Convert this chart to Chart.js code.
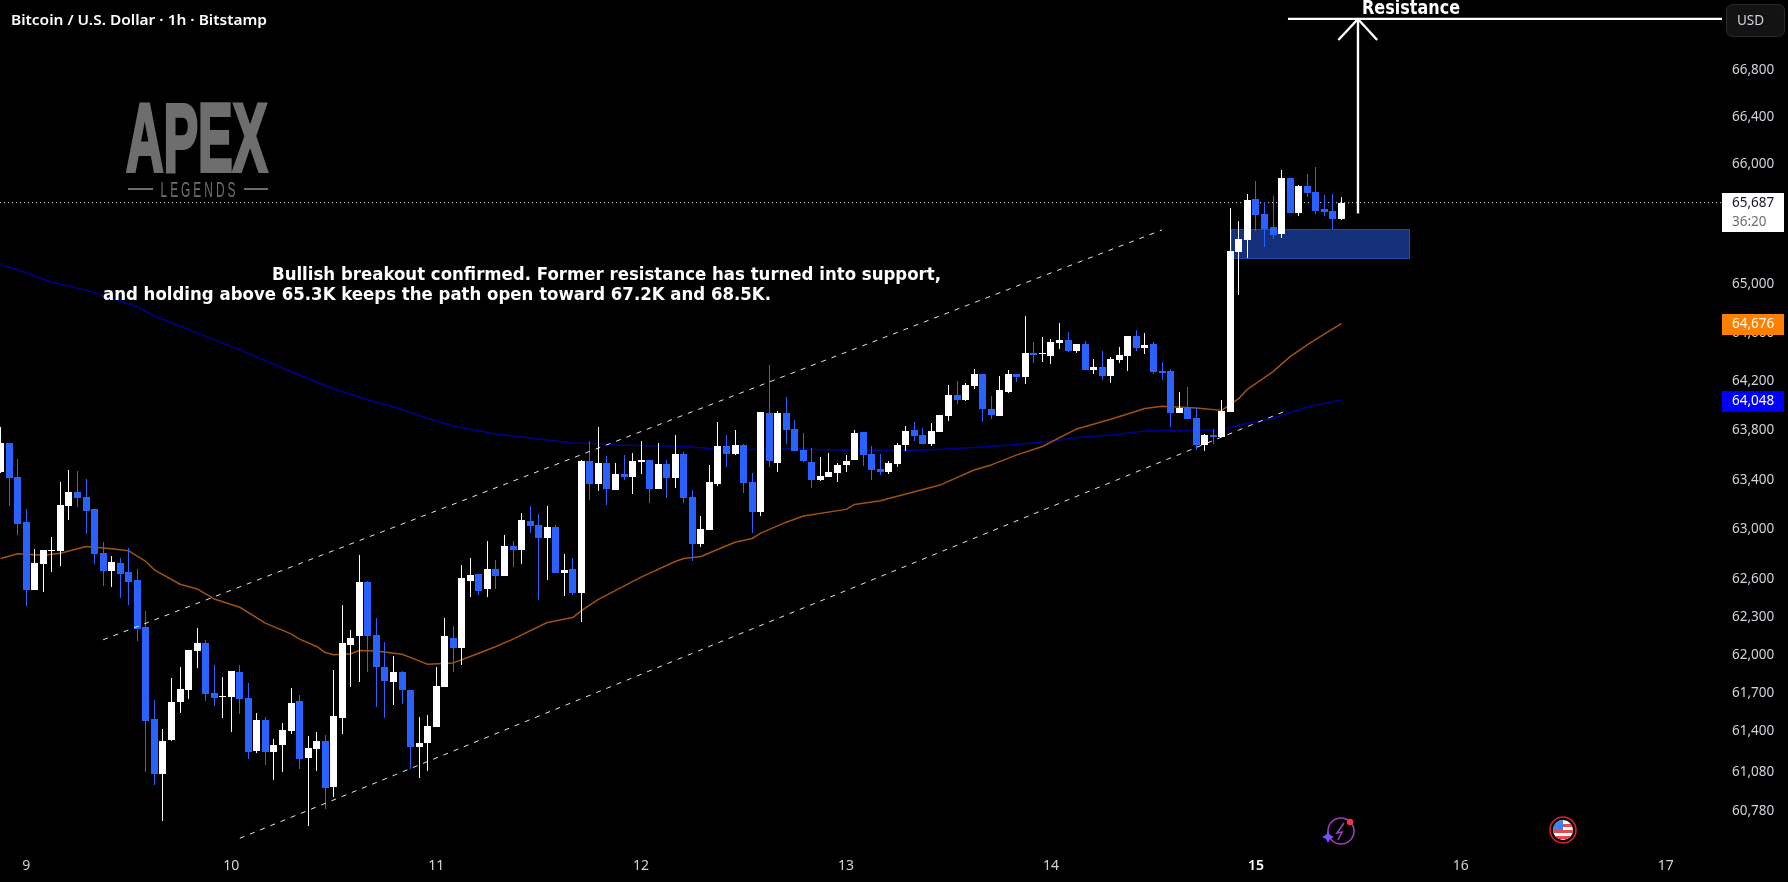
<!DOCTYPE html>
<html>
<head>
<meta charset="utf-8">
<title>BTCUSD 1h</title>
<script src="https://cdn.jsdelivr.net/npm/chart.js@4"></script>
<style>
html, body { margin: 0; padding: 0; background: #000; }
canvas { display: block; }
</style>
</head>
<body>
<canvas id="grafico" width="1788" height="882"></canvas>
<script>
// velas de 1h, la primera es tres horas antes del dia 9 a las 00:00
const first_hour = -3;

const opens = [63464,63699,63424,63061,62517,62725,62829,62829,63189,63302,63261,63165,62813,62669,62733,62661,62597,62224,61498,61068,
61334,61630,61725,62033,62097,61701,61670,61670,61867,61662,61248,61490,61240,61295,61404,61638,61193,61264,61326,60966,
61506,62081,62153,62581,62161,61907,61788,61867,61725,61279,61310,61435,61749,62137,62057,62589,62645,62525,62685,62629,
62869,62837,63069,63037,62933,63021,62653,62685,62493,63553,63367,63537,63318,63448,63424,63545,63561,63326,63529,63415,
63610,63261,62885,62997,63367,63675,63610,63683,63383,63141,63943,63537,63943,63813,63643,63545,63399,63424,63456,63521,
63561,63789,63610,63488,63464,63529,63683,63805,63764,63691,63789,63918,64089,64048,64163,64262,63975,63918,64114,64262,
64237,64434,64426,64410,64517,64541,64451,64508,64295,64319,64245,64377,64410,64574,64475,64508,64286,64286,63943,63983,
63902,63683,63764,63747,63950,65271,65371,65713,65588,65479,65421,65888,65596,65822,65771,65630,65613,65546];
const highs = [63829,63699,63569,63165,62845,62837,62941,63383,63480,63472,63407,63165,62901,62789,62773,62853,62685,62350,61646,61420,
61820,61907,62041,62216,62121,61923,61828,61875,61923,61780,61545,61514,61342,61467,61741,61685,61365,61396,61373,61883,
62397,62200,62797,62589,62295,62105,61994,61875,61725,61514,61529,61907,62295,62232,62717,62773,62645,62909,62757,62957,
62909,63133,63189,63125,63189,63037,62805,62773,63561,63716,63829,63594,63537,63602,63618,63716,63561,63699,63561,63764,
63626,63318,63109,63521,63870,63764,63805,63691,63456,63951,64336,63959,64073,63886,63780,63659,63586,63618,63537,63602,
63805,63789,63675,63610,63553,63699,63837,63870,63821,63862,63926,64171,64204,64188,64303,64262,64081,64245,64295,64262,
64738,64525,64566,64549,64681,64607,64508,64533,64385,64451,64401,64484,64574,64623,64599,64525,64360,64303,64114,64155,
63983,63772,63813,64048,65638,65529,65755,65863,65688,65738,65955,65888,65830,65922,65980,65746,65755,65730];
const lows = [63459,63189,62957,62390,62517,62501,62661,62709,63077,63181,62965,62725,62549,62541,62453,62397,62113,61083,60982,60701,
61326,61545,61654,61899,61638,61599,61506,61396,61537,61185,61232,61138,61021,61083,61381,61107,60662,61091,60795,60888,
61381,61749,61788,61867,61591,61506,61607,61615,61107,61037,61091,61435,61749,61867,61923,62461,62477,62461,62525,62629,
62701,62725,62973,62437,62597,62653,62469,62477,62263,63237,63310,63197,63318,63399,63286,63448,63213,63326,63253,63334,
63213,62749,62861,62997,63351,63505,63602,63294,62973,63109,63505,63464,63691,63635,63545,63334,63391,63424,63383,63464,
63561,63513,63399,63440,63448,63505,63635,63716,63691,63675,63789,63878,64016,64040,64138,63870,63894,63918,64106,64196,
64180,64352,64360,64344,64467,64443,64434,64295,64262,64212,64188,64352,64286,64451,64426,64262,64212,63829,63943,63894,
63643,63635,63691,63747,63950,64912,65221,65446,65312,65379,65388,65596,65571,65730,65588,65571,65463,65538];
const closes = [63699,63415,63045,62517,62733,62837,62837,63197,63302,63253,63149,62805,62669,62741,62645,62581,62208,61482,61068,61326,
61630,61733,62041,62097,61693,61662,61678,61875,61654,61240,61490,61240,61295,61412,61623,61185,61271,61326,60959,61521,
62097,62137,62581,62153,61907,61796,61867,61725,61279,61310,61443,61757,62153,62057,62613,62637,62509,62685,62629,62869,
62837,63077,63029,62933,63021,62653,62677,62493,63553,63367,63537,63326,63448,63424,63553,63561,63326,63529,63415,63610,
63253,62885,63005,63383,63675,63610,63683,63375,63141,63951,63553,63943,63805,63635,63553,63399,63432,63464,63521,63553,
63780,63602,63480,63464,63537,63683,63797,63756,63691,63797,63926,64089,64048,64171,64262,63975,63926,64130,64262,64237,
64434,64418,64434,64525,64541,64451,64508,64295,64319,64245,64385,64418,64574,64475,64500,64278,64270,63943,63983,63894,
63683,63764,63748,63958,65279,65379,65705,65580,65463,65413,65888,65596,65822,65763,65613,65605,65546,65680];

// media corta (naranja), hora y precio
const ema_hours = [-3,-1,2,4,7,10,12,14,15,18,20,22,25,28,31,32,34,35,36,38,39,41,44,46,47,50,52,55,57,61,64,65,67,72,76,77,79,83,85,86,89,91,96,97,100,104,107,111,113,116,119,123,127,131,133,137,140,142,143,146,148,150,152,154];
const ema_values = [62768,62805,62794,62810,62864,62845,62829,62744,62677,62562,62525,62445,62379,62253,62168,62126,62068,62020,62002,62010,62036,62033,62007,61954,61928,61938,61989,62068,62126,62258,62297,62352,62442,62619,62744,62768,62784,62898,62928,62971,63059,63109,63162,63202,63232,63304,63358,63480,63521,63602,63670,63813,63891,63980,63997,63983,63964,64062,64136,64281,64404,64500,64588,64676];

// media larga (azul)
const sma_hours = [-3,-1,3,7,9,13,15,20,25,31,36,38,40,43,47,50,55,60,64,67,69,77,80,84,89,96,100,105,112,116,120,123,127,131,140,142,146,150,154];
const sma_values = [65161,65120,65017,64952,64907,64814,64738,64599,64459,64282,64138,64095,64048,63994,63900,63837,63772,63732,63699,63694,63683,63670,63653,63645,63651,63640,63640,63640,63667,63686,63713,63743,63764,63797,63805,63845,63900,63991,64048];

// canal y dibujos
const upper_hours = [9, 133];
const upper_prices = [62121, 65452];
const lower_hours = [25, 147.75];
const lower_prices = [60569, 63967];
const resistance_hours = [147.75, 198.58];
const resistance_prices = [67236, 67236];
const shaft_hours = [155.95, 155.95];
const shaft_prices = [65590, 67236];
const head_hours = [153.65, 155.95, 158.2];
const head_prices = [67056, 67236, 67056];
const zone_hours = [141.05, 162];
const zone_prices = [65458, 65214];

const price_ticks = [66800,66400,66000,65600,65000,64600,64200,63800,63400,63000,62600,62300,62000,61700,61400,61080,60780];
const day_ticks = [0,24,48,72,96,120,144,168,192];
const day_labels = ['9','10','11','12','13','14','15','16','17'];

const last_price = '65,687';
const countdown = '36:20';
const ema_label = '64,676';
const sma_label = '64,048';

const UP = '#ffffff';
const DOWN = '#2962ff';
const AXIS_TEXT = '#d1d4dc';
const UI_FONT = '"Noto Sans"';

function xy(xs, ys) {
  return xs.map((x, i) => ({ x: x, y: ys[i] }));
}
function is_up(i) {
  return closes[i] >= opens[i];
}

const bodies = opens.map((o, i) => ({ x: first_hour + i, y: [o, closes[i]] }));
const wicks = highs.map((h, i) => ({ x: first_hour + i, y: [lows[i], h] }));
const candle_colors = opens.map((o, i) => is_up(i) ? UP : DOWN);

function lineset(data, color, width, dash, order) {
  return {
    type: 'line', data: data, borderColor: color, borderWidth: width, borderDash: dash || [],
    pointRadius: 0, tension: 0, fill: false, order: order,
    borderCapStyle: 'butt', borderJoinStyle: 'round'
  };
}

function fit_text(ctx, txt, x, base, font, width, color) {
  ctx.save();
  ctx.font = font;
  ctx.fillStyle = color;
  ctx.textAlign = 'left';
  ctx.textBaseline = 'alphabetic';
  const w = ctx.measureText(txt).width;
  ctx.translate(x, base);
  ctx.scale(width / w, 1);
  ctx.fillText(txt, 0, 0);
  ctx.restore();
}

// estira el texto a una caja exacta, para el logo
function box_text(ctx, txt, x0, y0, x1, y1, font, color, spacing, heavy) {
  ctx.save();
  ctx.font = font;
  ctx.fillStyle = color;
  ctx.strokeStyle = color;
  ctx.textAlign = 'left';
  ctx.textBaseline = 'alphabetic';
  if (spacing) ctx.letterSpacing = spacing;
  const m = ctx.measureText(txt);
  const w = m.actualBoundingBoxRight + m.actualBoundingBoxLeft;
  const h = m.actualBoundingBoxAscent + m.actualBoundingBoxDescent;
  ctx.translate(x0, y0);
  ctx.scale((x1 - x0) / w, (y1 - y0) / h);
  ctx.fillText(txt, m.actualBoundingBoxLeft, m.actualBoundingBoxAscent);
  if (heavy) {
    ctx.lineWidth = heavy;
    ctx.strokeText(txt, m.actualBoundingBoxLeft, m.actualBoundingBoxAscent);
  }
  ctx.restore();
}

function price_box(ctx, y0, y1, bg) {
  ctx.fillStyle = bg;
  ctx.fillRect(1722, y0, 62, y1 - y0);
}

function no_padding(axis) {
  axis.paddingLeft = 0;
  axis.paddingRight = 0;
  axis.paddingTop = 0;
  axis.paddingBottom = 0;
}

// cuerpos y mechas alineados al pixel
const snap_bars = {
  id: 'snap_bars',
  afterDatasetsUpdate(chart) {
    [0, 1].forEach(k => {
      chart.getDatasetMeta(k).data.forEach(el => {
        el.x = Math.floor(el.x) + 0.5;
        el.y = Math.round(el.y);
        el.base = Math.round(el.base);
      });
    });
  }
};

const zone_box = {
  id: 'zone_box',
  beforeDatasetsDraw(chart) {
    const ctx = chart.ctx, sx = chart.scales.x, sy = chart.scales.y;
    const x0 = Math.round(sx.getPixelForValue(zone_hours[0]));
    const x1 = Math.round(sx.getPixelForValue(zone_hours[1]));
    const y0 = Math.round(sy.getPixelForValue(zone_prices[0]));
    const y1 = Math.round(sy.getPixelForValue(zone_prices[1]));
    ctx.save();
    ctx.fillStyle = '#14307a';
    ctx.fillRect(x0, y0, x1 - x0, y1 - y0);
    ctx.strokeStyle = '#1d48b4';
    ctx.lineWidth = 1;
    ctx.strokeRect(x0 + 0.5, y0 + 0.5, x1 - x0 - 1, y1 - y0 - 1);
    ctx.restore();
  }
};

const overlays = {
  id: 'overlays',
  afterDraw(chart) {
    const ctx = chart.ctx;
    ctx.save();

    // titulo
    fit_text(ctx, 'Bitcoin / U.S. Dollar · 1h · Bitstamp', 11, 25, '600 14px ' + UI_FONT, 256, '#ffffff');

    // logo
    box_text(ctx, 'APEX', 127, 103, 267, 172, 'bold 100px "Liberation Sans"', '#6e6e6e', null, 4);
    box_text(ctx, 'LEGENDS', 161, 181, 235, 197, '24px "Liberation Sans"', '#6e6e6e', '6px');
    ctx.fillStyle = '#6e6e6e';
    ctx.fillRect(128, 188, 25, 2);
    ctx.fillRect(244, 188, 24, 2);

    // comentario
    fit_text(ctx, 'Bullish breakout confirmed. Former resistance has turned into support,', 272, 280, 'bold 17.5px "DejaVu Sans"', 669, '#ffffff');
    fit_text(ctx, 'and holding above 65.3K keeps the path open toward 67.2K and 68.5K.', 103, 300, 'bold 17.5px "DejaVu Sans"', 668, '#ffffff');
    fit_text(ctx, 'Resistance', 1362, 14, 'bold 19px "DejaVu Sans"', 98, '#ffffff');

    // etiquetas del eje de precios
    ctx.textAlign = 'left';
    ctx.textBaseline = 'middle';
    ctx.font = '13.5px ' + UI_FONT;
    price_box(ctx, 193, 232, '#ffffff');
    ctx.fillStyle = '#131722';
    ctx.fillText(last_price, 1732, 203);
    ctx.fillStyle = '#6a6d78';
    ctx.fillText(countdown, 1732, 222);
    price_box(ctx, 314, 335, '#ff8000');
    ctx.fillStyle = '#ffffff';
    ctx.fillText(ema_label, 1732, 324);
    price_box(ctx, 391, 412, '#0000ff');
    ctx.fillStyle = '#ffffff';
    ctx.fillText(sma_label, 1732, 401);

    // boton USD
    ctx.beginPath();
    ctx.roundRect(1726.5, 4.5, 58, 32, 6);
    ctx.fillStyle = '#131313';
    ctx.fill();
    ctx.strokeStyle = '#2a2a2a';
    ctx.lineWidth = 1;
    ctx.stroke();
    ctx.fillStyle = AXIS_TEXT;
    ctx.fillText('USD', 1737, 21);

    // icono del rayo
    ctx.save();
    ctx.translate(-1, -5);
    ctx.strokeStyle = '#9c3fb5';
    ctx.lineWidth = 1.6;
    ctx.beginPath();
    ctx.arc(1342, 836, 13, 0, Math.PI * 2);
    ctx.stroke();
    ctx.beginPath();
    ctx.moveTo(1345, 828);
    ctx.lineTo(1338, 838);
    ctx.lineTo(1343, 837);
    ctx.lineTo(1339, 845);
    ctx.stroke();
    ctx.fillStyle = '#7c4dff';
    ctx.beginPath();
    ctx.moveTo(1329, 836);
    ctx.lineTo(1331, 840);
    ctx.lineTo(1335, 842);
    ctx.lineTo(1331, 844);
    ctx.lineTo(1329, 848);
    ctx.lineTo(1327, 844);
    ctx.lineTo(1323, 842);
    ctx.lineTo(1327, 840);
    ctx.closePath();
    ctx.fill();
    ctx.fillStyle = '#f23645';
    ctx.beginPath();
    ctx.arc(1351, 827, 3.2, 0, Math.PI * 2);
    ctx.fill();
    ctx.restore();

    // icono de la bandera
    ctx.save();
    ctx.translate(0, -6);
    ctx.save();
    ctx.beginPath();
    ctx.arc(1563, 836, 10, 0, Math.PI * 2);
    ctx.clip();
    ctx.fillStyle = '#ffffff';
    ctx.fillRect(1550, 824, 26, 24);
    ctx.fillStyle = '#e5484d';
    ctx.fillRect(1550, 830, 26, 3);
    ctx.fillRect(1550, 836, 26, 3);
    ctx.fillRect(1550, 842, 26, 3);
    ctx.fillStyle = '#3b82f6';
    ctx.fillRect(1550, 824, 13, 12);
    ctx.restore();
    ctx.strokeStyle = '#e01e2e';
    ctx.lineWidth = 1.6;
    ctx.beginPath();
    ctx.arc(1563, 836, 13, 0, Math.PI * 2);
    ctx.stroke();
    ctx.restore();

    ctx.restore();
  }
};

const grafico = new Chart(document.getElementById('grafico').getContext('2d'), {
  type: 'bar',
  data: {
    datasets: [
      { data: bodies, backgroundColor: candle_colors, barThickness: 7, grouped: false, order: 2, borderWidth: 0, inflateAmount: 0 },
      { data: wicks, backgroundColor: candle_colors, barThickness: 1, grouped: false, order: 3, borderWidth: 0, inflateAmount: 0 },
      lineset(xy(ema_hours, ema_values), '#a0520e', 1.5, null, 5),
      lineset(xy(sma_hours, sma_values), '#000096', 1.5, null, 5),
      lineset(xy(upper_hours, upper_prices), '#e6e6e6', 1, [5, 6], 1),
      lineset(xy(lower_hours, lower_prices), '#e6e6e6', 1, [5, 6], 1),
      lineset(xy([first_hour - 1, 198.58], [closes[closes.length - 1], closes[closes.length - 1]]), '#ffffff', 1, [1, 3], 6),
      lineset(xy(resistance_hours, resistance_prices), '#ffffff', 2.2, null, 1),
      lineset(xy(shaft_hours, shaft_prices), '#ffffff', 2.4, null, 1),
      lineset(xy(head_hours, head_prices), '#ffffff', 2.4, null, 1)
    ]
  },
  options: {
    responsive: false,
    devicePixelRatio: 1,
    animation: false,
    events: [],
    layout: { padding: 0 },
    plugins: { legend: { display: false }, tooltip: { enabled: false } },
    scales: {
      x: {
        type: 'linear',
        offset: false,
        min: -3.08,
        max: 198.58,
        grid: { display: false, drawTicks: false, offset: false },
        border: { display: false },
        afterBuildTicks(axis) {
          axis.ticks = day_ticks.map(v => ({ value: v }));
        },
        afterFit(axis) {
          axis.height = 34;
          no_padding(axis);
        },
        ticks: {
          autoSkip: false,
          maxRotation: 0,
          padding: 10,
          color: ctx => (ctx.tick && ctx.tick.value === 144) ? '#ffffff' : AXIS_TEXT,
          font: ctx => ({ family: UI_FONT, size: 14, weight: (ctx.tick && ctx.tick.value === 144) ? '600' : '400' }),
          callback: v => day_labels[day_ticks.indexOf(v)]
        }
      },
      y: {
        type: 'logarithmic',
        position: 'right',
        bounds: 'data',
        min: 60494,
        max: 67398.6,
        grid: { display: false, drawTicks: false },
        border: { display: false },
        afterBuildTicks(axis) {
          axis.ticks = price_ticks.map(v => ({ value: v }));
        },
        afterFit(axis) {
          axis.width = 66;
          no_padding(axis);
        },
        ticks: {
          autoSkip: false,
          padding: 10,
          crossAlign: 'near',
          color: AXIS_TEXT,
          font: { family: UI_FONT, size: 13.5 },
          callback: v => v.toLocaleString('en-US')
        }
      }
    }
  },
  plugins: [snap_bars, zone_box, overlays]
});
</script>
</body>
</html>
